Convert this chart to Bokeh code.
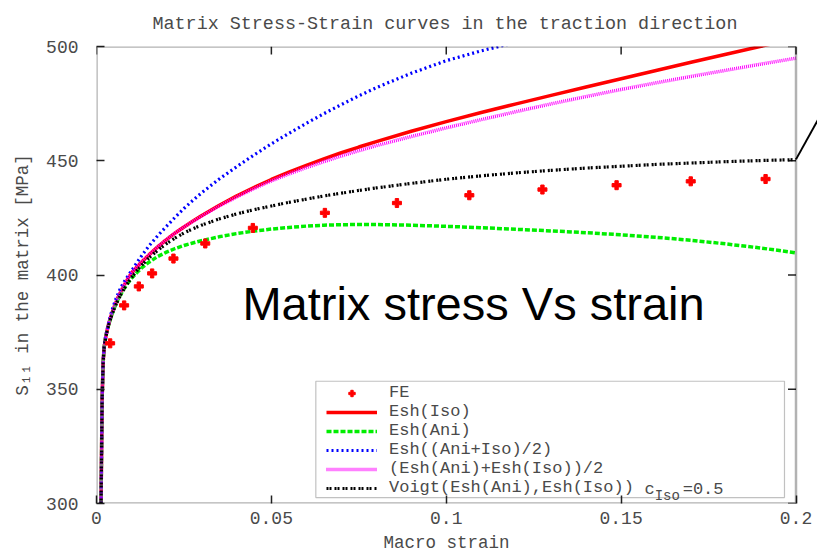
from bokeh.plotting import figure
from bokeh.models import (Range1d, FixedTicker, LinearAxis, Legend, LegendItem,
                          Label, BoxAnnotation)
from bokeh.embed import file_html
from bokeh.resources import INLINE

# Macro strain sampling shared by the homogenisation curves
strain = [0.0013, 0.0016, 0.0019, 0.0022, 0.0026, 0.003, 0.0035, 0.0041, 0.0048, 0.0055,
          0.0062, 0.007, 0.008, 0.009, 0.01, 0.0115, 0.013, 0.015, 0.0175, 0.02,
          0.0225, 0.025, 0.0275, 0.03, 0.035, 0.04, 0.045, 0.05, 0.055, 0.06,
          0.065, 0.07, 0.075, 0.08, 0.09, 0.1, 0.11, 0.12, 0.13, 0.14,
          0.15, 0.16, 0.17, 0.18, 0.19, 0.2]

# Matrix stress S11 [MPa]
esh_iso = [300, 345, 362, 368.5, 372.5, 375.5, 378.7, 381.8, 385, 387.8,
           390.3, 392.9, 395.8, 398.4, 400.9, 403.4, 405.8, 408.8, 412.3, 415.5,
           418.4, 421.0, 423.5, 425.9, 430.4, 434.5, 438.3, 441.8, 445.0, 448.0,
           450.8, 453.5, 456.0, 458.4, 462.9, 467.1, 471.1, 474.9, 478.6, 482.3,
           485.9, 489.5, 493.1, 496.6, 500.1, 503.5]
esh_ani = [300, 345, 362, 368.5, 372.5, 375.4, 378.3, 381.3, 384.4, 387.0,
           389.5, 391.7, 394.3, 396.5, 398.5, 401.0, 403.2, 405.6, 408.1, 410.0,
           411.6, 412.9, 414.0, 415.0, 416.7, 418.1, 419.2, 420.1, 420.8, 421.4,
           421.8, 422.0, 422.1, 422.1, 421.8, 421.3, 420.7, 420.0, 419.3, 418.5,
           417.6, 416.5, 415.2, 413.6, 411.8, 409.7]
esh_mean_tensor = [300, 345, 362.5, 369, 373, 376, 379.3, 382.8, 386.3, 389.3,
                   391.9, 394.7, 397.2, 399.6, 401.8, 405.3, 408.6, 412.7, 417.2, 421.3,
                   425.3, 429.1, 432.6, 435.9, 441.9, 447.3, 452.5, 457.4, 462.0, 466.4,
                   470.6, 474.6, 478.4, 482.0, 488.3, 493.8, 498.1, 501.8]
esh_mean_stress = [300, 345, 362, 368.5, 372.5, 375.5, 378.7, 381.8, 385, 387.8,
                   390.3, 392.9, 395.8, 398.4, 400.9, 403.4, 405.8, 408.8, 412.3, 415.5,
                   418.4, 421.0, 423.4, 425.7, 430.1, 434.1, 437.8, 441.2, 444.2, 447.0,
                   449.6, 452.1, 454.4, 456.6, 460.6, 464.4, 468.0, 471.5, 474.9, 478.1,
                   481.2, 484.1, 486.9, 489.6, 492.3, 494.9]
voigt = [300, 345, 362, 368.5, 372.3, 375.2, 378.2, 381.2, 384.2, 386.8,
         389.1, 391.5, 394.2, 396.6, 398.8, 401.8, 404.4, 407.5, 410.8, 413.7,
         416.2, 418.4, 420.2, 421.8, 424.5, 426.7, 428.6, 430.2, 431.8, 433.2,
         434.6, 435.8, 437.0, 438.1, 440.1, 441.9, 443.4, 444.7, 445.8, 446.8,
         447.6, 448.4, 449.0, 449.6, 450.1, 450.5]

# Finite element reference
fe_strain = [0.0039, 0.0079, 0.0121, 0.0159, 0.022, 0.0311, 0.0447, 0.0653, 0.0859,
             0.1066, 0.1275, 0.1487, 0.1699, 0.1913]
fe_stress = [370.1, 386.7, 395.0, 400.7, 407.2, 413.8, 420.6, 427.2, 431.5,
             434.9, 437.4, 439.3, 441.0, 442.0]

x_ticks = [0, 0.05, 0.1, 0.15, 0.2]
x_tick_labels = ["0", "0.05", "0.1", "0.15", "0.2"]
y_ticks = [300, 350, 400, 450, 500]

X_MIN, X_MAX = 0.0, 0.2
Y_MIN, Y_MAX = 300, 500

MONO = "Liberation Mono"
TXT = "#4a4a4a"
NBSP = "\u00a0"

# the frame runs to the page edge so the callout line can leave the axes box
BORDER_L = 96
FRAME_W = 817 - BORDER_L
AXES_W = 699.5
x_view_max = X_MAX * FRAME_W / AXES_W
px_x = AXES_W / (X_MAX - X_MIN)
px_y = 458.0 / (Y_MAX - Y_MIN)
TICK = 8

p = figure(width=817, height=557, output_backend="svg", toolbar_location=None,
           x_range=Range1d(X_MIN, x_view_max), y_range=Range1d(Y_MIN, Y_MAX),
           x_axis_type=None, y_axis_type=None,
           min_border_left=BORDER_L, min_border_right=0, min_border_top=45,
           min_border_bottom=54,
           title="Matrix Stress-Strain curves in the traction direction")
p.grid.visible = False
p.outline_line_color = None
p.background_fill_color = "white"
p.border_fill_color = "white"

p.title.text_font = MONO
p.title.text_font_size = "18.4px"
p.title.text_font_style = "normal"
p.title.text_color = TXT
p.title.align = "left"
p.title.offset = 56
p.title.standoff = 23

def style_axis(ax):
    ax.major_tick_in = TICK
    ax.major_tick_out = 0
    ax.minor_tick_line_color = None
    ax.major_tick_line_color = "#222222"
    ax.major_tick_line_width = 1.5
    ax.axis_line_color = None
    ax.major_label_text_font = MONO
    ax.major_label_text_font_size = "18px"
    ax.major_label_text_color = TXT
    ax.axis_label_text_font = MONO
    ax.axis_label_text_font_size = "17.5px"
    ax.axis_label_text_font_style = "normal"
    ax.axis_label_text_color = TXT

# trailing spaces nudge the centred title towards the axes box centre
xb = LinearAxis(ticker=FixedTicker(ticks=x_ticks), axis_label="Macro strain" + NBSP * 2,
                major_label_overrides={t: s for t, s in zip(x_ticks, x_tick_labels)})
style_axis(xb)
xb.major_label_standoff = 8
xb.axis_label_standoff = 6
p.add_layout(xb, "below")

yl = LinearAxis(ticker=FixedTicker(ticks=y_ticks), axis_label="S\u2081\u2081 in the matrix [MPa]")
style_axis(yl)
yl.major_label_standoff = 18
yl.axis_label_standoff = 10
p.add_layout(yl, "left")

# axes box and mirrored ticks on the top and right sides
p.add_layout(BoxAnnotation(left=X_MIN, right=X_MAX, bottom=Y_MIN, top=Y_MAX,
                           fill_alpha=0, line_color="black", line_width=2.5))
dx = TICK / px_x
dy = TICK / px_y
p.segment(x0=x_ticks, y0=[Y_MAX] * len(x_ticks), x1=x_ticks,
          y1=[Y_MAX - dy] * len(x_ticks), line_color="#222222", line_width=1.5)
p.segment(x0=[X_MAX] * len(y_ticks), y0=y_ticks, x1=[X_MAX - dx] * len(y_ticks),
          y1=y_ticks, line_color="#222222", line_width=1.5)

n_blue = len(esh_mean_tensor)
r_iso = p.line(strain, esh_iso, line_color="#ff0000", line_width=3.5)
r_ani = p.line(strain, esh_ani, line_color="#00ee00", line_width=3.5, line_dash="5 2")
r_mt = p.line(strain[:n_blue], esh_mean_tensor, line_color="#0000ff", line_width=3.2,
              line_dash="2 3")
r_ms = p.line(strain, esh_mean_stress, line_color="#ff00ff", line_width=3.5,
              line_dash="1 1")
r_vo = p.line(strain, voigt, line_color="#000000", line_width=3.2, line_dash="2 1 2 3")
r_fe = p.scatter(fe_strain, fe_stress, marker="plus", size=9, fill_color="#ff0000",
                 line_color="#ff0000")

# Legend frame
p.add_layout(BoxAnnotation(left=0.06271, right=0.19671, bottom=302.6, top=353.5,
                           fill_color="white", fill_alpha=1.0, line_color="#333333",
                           line_width=1.2, level="underlay"))

legend = Legend(items=[
    LegendItem(label="FE", renderers=[r_fe]),
    LegendItem(label="Esh(Iso)", renderers=[r_iso]),
    LegendItem(label="Esh(Ani)", renderers=[r_ani]),
    LegendItem(label="Esh((Ani+Iso)/2)", renderers=[r_mt]),
    LegendItem(label="(Esh(Ani)+Esh(Iso))/2", renderers=[r_ms]),
    LegendItem(label="Voigt(Esh(Ani),Esh(Iso))", renderers=[r_vo]),
], location=(230, 6))
legend.padding = 0
legend.margin = 0
legend.spacing = 0
legend.glyph_width = 51
legend.glyph_height = 16
legend.label_height = 16
legend.label_standoff = 12
legend.label_text_font = MONO
legend.label_text_font_size = "17px"
legend.label_text_color = TXT
legend.border_line_color = None
legend.background_fill_alpha = 0
p.add_layout(legend)

# Volume fraction annotation after the Voigt entry
p.add_layout(Label(x=0.1567, y=306.3, text="c", text_font=MONO, text_font_size="17px",
                   text_color=TXT, text_baseline="alphabetic"))
p.add_layout(Label(x=0.1596, y=303.3, text="Iso", text_font=MONO, text_font_size="14px",
                   text_color=TXT, text_baseline="alphabetic"))
p.add_layout(Label(x=0.1676, y=306.3, text="=0.5", text_font=MONO, text_font_size="17px",
                   text_color=TXT, text_baseline="alphabetic"))

# Slide caption over the plot area
p.add_layout(Label(x=0.1078, y=387.6, text="Matrix stress Vs strain",
                   text_font="Liberation Sans", text_font_size="47px",
                   text_color="black", text_align="center", text_baseline="alphabetic"))

# Callout line leaving the axes box on the right
p.segment(x0=[X_MAX], y0=[450.6], x1=[X_MAX + 26 / px_x], y1=[450.6 + 47 / px_y],
          line_color="black", line_width=2)

open("out.html", "w").write(file_html(p, INLINE))
